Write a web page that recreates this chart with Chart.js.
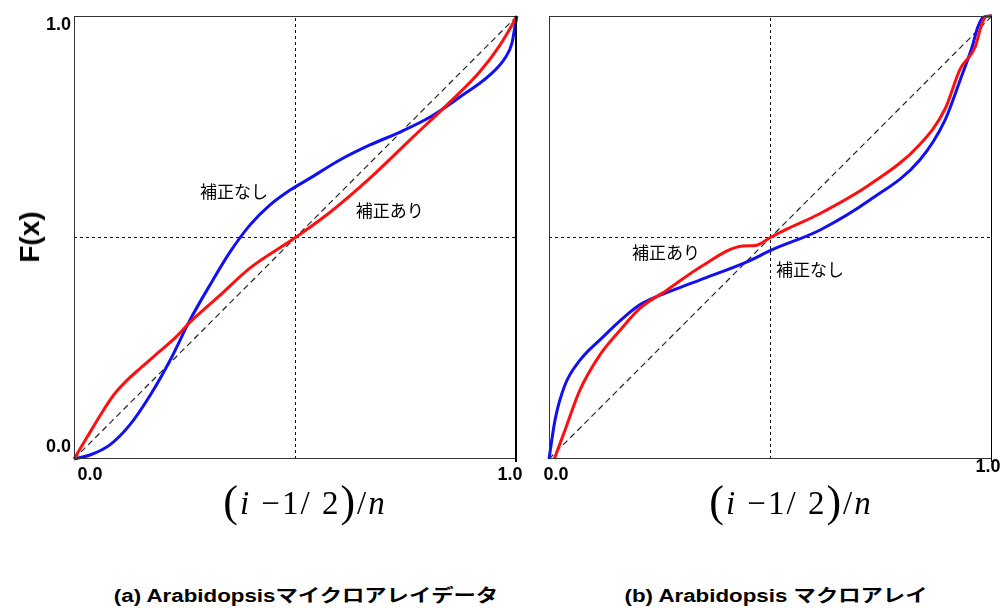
<!DOCTYPE html>
<html>
<head>
<meta charset="utf-8">
<script src="https://cdn.jsdelivr.net/npm/chart.js@4/dist/chart.umd.min.js"></script>
<style>
  body { margin: 0; background: #fff; }
  #wrap { position: relative; width: 1002px; height: 608px; overflow: hidden; font-family: "Liberation Sans", Arial, sans-serif; }
  canvas { position: absolute; }
  .ylab { position: absolute; left: 30px; top: 237px; transform: translate(-50%, -50%) rotate(-90deg); font-weight: bold; font-size: 28px; }
  .xlab { position: absolute; top: 480px; transform: translateX(-50%); font-family: "Liberation Serif", "Times New Roman", serif; font-size: 33px; letter-spacing: 2px; white-space: nowrap; line-height: 44px; }
  .xlab .p { font-size: 44px; vertical-align: -2px; }
  .cap { position: absolute; top: 581px; transform: translateX(-50%) scaleX(1.24); font-weight: bold; font-size: 18px; white-space: nowrap; font-family: "Liberation Sans", "Noto Sans CJK JP", sans-serif; }
</style>
</head>
<body>
<div id="wrap">
  <canvas id="left" width="540" height="490" style="left:0;top:0;width:540px;height:490px"></canvas>
  <canvas id="right" width="472" height="490" style="left:530px;top:0;width:472px;height:490px"></canvas>
  <div class="ylab">F(x)</div>
  <div class="xlab" style="left:305px"><span class="p">(</span><i>i</i> −1/ 2<span class="p">)</span>/<i>n</i></div>
  <div class="xlab" style="left:791px"><span class="p">(</span><i>i</i> −1/ 2<span class="p">)</span>/<i>n</i></div>
  <div class="cap" style="left:306px">(a) Arabidopsisマイクロアレイデータ</div>
  <div class="cap" style="left:776px">(b) Arabidopsis マクロアレイ</div>
</div>
<script>
// (a) microarray: uncorrected (blue) and corrected (red)
const leftUncorrected = [[0,0],[0.036,0.009],[0.081,0.032],[0.126,0.077],[0.172,0.144],[0.217,0.223],[0.262,0.314],[0.307,0.393],[0.352,0.467],[0.397,0.528],[0.442,0.573],[0.488,0.607],[0.533,0.634],[0.60,0.675],[0.668,0.709],[0.736,0.738],[0.804,0.772],[0.871,0.817],[0.939,0.867],[0.973,0.905],[0.989,0.94],[0.996,0.98],[1,1]];
const leftCorrected = [[0,0],[0.03,0.05],[0.06,0.10],[0.09,0.145],[0.12,0.178],[0.15,0.205],[0.19,0.24],[0.23,0.275],[0.262,0.309],[0.33,0.37],[0.397,0.431],[0.5,0.5],[0.578,0.557],[0.668,0.634],[0.758,0.72],[0.849,0.806],[0.916,0.874],[0.962,0.935],[0.989,0.98],[1,1]];

// (b) macroarray
const rightUncorrected = [[0,0],[0.014,0.09],[0.036,0.167],[0.07,0.223],[0.115,0.269],[0.205,0.348],[0.28,0.381],[0.34,0.404],[0.447,0.445],[0.503,0.472],[0.612,0.517],[0.725,0.585],[0.837,0.675],[0.894,0.765],[0.928,0.855],[0.955,0.93],[0.968,0.975],[0.98,0.997],[1,1]];
const rightCorrected = [[0.012,0],[0.036,0.065],[0.07,0.156],[0.115,0.235],[0.16,0.29],[0.205,0.34],[0.266,0.381],[0.341,0.433],[0.438,0.481],[0.465,0.482],[0.5,0.5],[0.533,0.517],[0.61,0.553],[0.725,0.62],[0.837,0.71],[0.894,0.79],[0.928,0.88],[0.962,0.93],[0.975,0.975],[0.985,0.997],[1,1]];

const tickValues = [0, 1];
const tickLabels = ['0.0', '1.0'];

const leftNotes = [{ text: '補正なし', x: 0.361, y: 0.603 }, { text: '補正あり', x: 0.713, y: 0.56 }];
const rightNotes = [{ text: '補正あり', x: 0.264, y: 0.465 }, { text: '補正なし', x: 0.589, y: 0.427 }];

const RED = 'rgb(255,16,16)';
const BLUE = 'rgb(16,16,240)';

function toXY(arr) {
    return arr.map(p => ({ x: p[0], y: p[1] }));
}

// draws frame, tick labels and curve notes
const decor = {
    id: 'decor',
    afterDraw(chart, args, opts) {
        const ctx = chart.ctx;
        const a = chart.chartArea;
        const xs = chart.scales.x, ys = chart.scales.y;
        ctx.save();
        ctx.strokeStyle = '#333';
        ctx.lineWidth = 1;
        ctx.beginPath();
        ctx.moveTo(a.left + 0.5, a.top + 0.5);
        ctx.lineTo(a.right - 0.5, a.top + 0.5);
        ctx.moveTo(a.left + 0.5, a.top);
        ctx.lineTo(a.left + 0.5, a.bottom - 0.5);
        ctx.lineTo(a.right, a.bottom - 0.5);
        ctx.stroke();
        ctx.strokeStyle = '#000';
        ctx.lineWidth = opts.rightWidth;
        ctx.beginPath();
        ctx.moveTo(a.right - opts.rightWidth / 2, a.top);
        ctx.lineTo(a.right - opts.rightWidth / 2, a.bottom + 3);
        ctx.stroke();

        ctx.fillStyle = '#000';
        ctx.font = 'bold 18px "Liberation Sans", Arial, sans-serif';
        ctx.textBaseline = 'middle';
        if (opts.yTicks) {
            ctx.textAlign = 'right';
            tickValues.forEach((v, i) => {
                ctx.fillText(tickLabels[i], a.left - 3, ys.getPixelForValue(v) + (v === 0 ? -12 : 9));
            });
        }
        ctx.textAlign = 'center';
        tickValues.forEach((v, i) => {
            ctx.fillText(tickLabels[i], xs.getPixelForValue(v) + opts.xOff[i], a.bottom + opts.xDy[i]);
        });

        ctx.font = '17px "Noto Sans CJK JP", sans-serif';
        opts.notes.forEach(n => {
            ctx.fillText(n.text, xs.getPixelForValue(n.x), ys.getPixelForValue(n.y));
        });
        ctx.restore();
    }
};

function makeChart(id, blue, red, pad, decorOpts) {
    return new Chart(document.getElementById(id), {
        type: 'line',
        data: {
            datasets: [
                { data: toXY(red), borderColor: RED, borderWidth: 3, cubicInterpolationMode: 'monotone', clip: false },
                { data: toXY(blue), borderColor: BLUE, borderWidth: 3, cubicInterpolationMode: 'monotone', clip: false },
                { data: [{ x: 0, y: 0 }, { x: 1, y: 1 }], borderColor: '#222', borderWidth: 1.2, borderDash: [6, 4] },
                { data: [{ x: 0.5, y: 0 }, { x: 0.5, y: 1 }], borderColor: '#111', borderWidth: 1, borderDash: [3, 3] },
                { data: [{ x: 0, y: 0.5 }, { x: 1, y: 0.5 }], borderColor: '#111', borderWidth: 1, borderDash: [3, 3] }
            ]
        },
        options: {
            responsive: false,
            animation: false,
            elements: { point: { radius: 0 }, line: { tension: 0 } },
            layout: { padding: pad },
            scales: {
                x: { type: 'linear', min: 0, max: 1, display: false },
                y: { type: 'linear', min: 0, max: 1, display: false }
            },
            plugins: { legend: { display: false }, tooltip: { enabled: false }, decor: decorOpts }
        },
        plugins: [decor]
    });
}

makeChart('left', leftUncorrected, leftCorrected,
    { left: 74, top: 16, right: 23, bottom: 31 },
    { yTicks: true, xOff: [16, -7], xDy: [16, 16], notes: leftNotes, rightWidth: 2 });

makeChart('right', rightUncorrected, rightCorrected,
    { left: 19, top: 16, right: 10, bottom: 31 },
    { yTicks: false, xOff: [7, -4], xDy: [16, 8], notes: rightNotes, rightWidth: 1 });
</script>
</body>
</html>
